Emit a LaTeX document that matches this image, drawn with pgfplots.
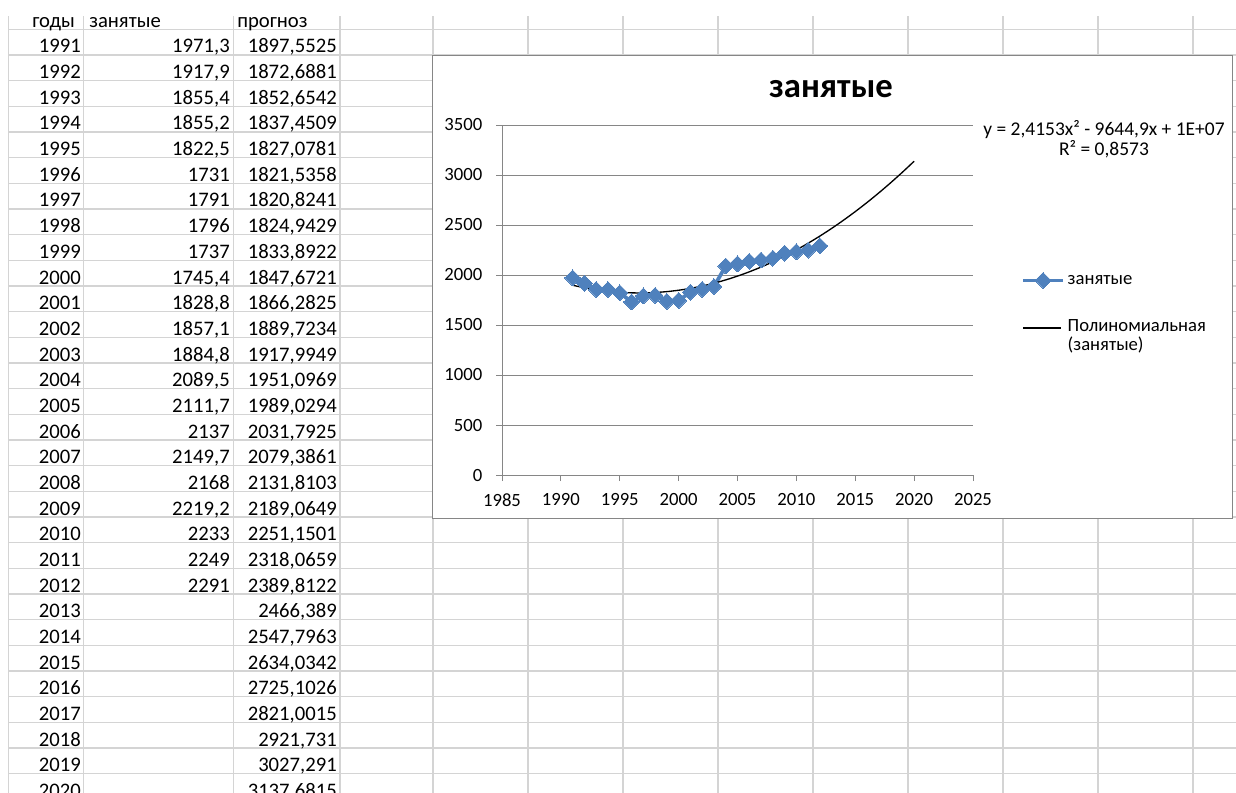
\documentclass[border=0pt]{standalone}
\usepackage{fontspec}
\setmainfont{Carlito}
\usepackage{pgfplots}
\usepackage{pgfplotstable}
\pgfplotsset{compat=1.18}
\definecolor{cellgrid}{RGB}{212,212,212}
\definecolor{axgray}{RGB}{134,134,134}
\definecolor{xlblue}{RGB}{79,129,189}

\pgfplotsset{
  seriesimg/.style={legend image code/.code={\draw[mark repeat=2,mark phase=2,##1] plot coordinates {(0pt,0pt)(15pt,0pt)(30pt,0pt)};}},
  trendimg/.style={legend image code/.code={\draw[##1] (0pt,6pt) -- (28pt,6pt);}},
}

\pgfplotstableread{
year val
1991 1971.3
1992 1917.9
1993 1855.4
1994 1855.2
1995 1822.5
1996 1731
1997 1791
1998 1796
1999 1737
2000 1745.4
2001 1828.8
2002 1857.1
2003 1884.8
2004 2089.5
2005 2111.7
2006 2137
2007 2149.7
2008 2168
2009 2219.2
2010 2233
2011 2249
2012 2291
}\zanyatye

\pgfplotstableread{
year val
1991 1897.5525
1992 1872.6881
1993 1852.6542
1994 1837.4509
1995 1827.0781
1996 1821.5358
1997 1820.8241
1998 1824.9429
1999 1833.8922
2000 1847.6721
2001 1866.2825
2002 1889.7234
2003 1917.9949
2004 1951.0969
2005 1989.0294
2006 2031.7925
2007 2079.3861
2008 2131.8103
2009 2189.0649
2010 2251.1501
2011 2318.0659
2012 2389.8122
2013 2466.389
2014 2547.7963
2015 2634.0342
2016 2725.1026
2017 2821.0015
2018 2921.731
2019 3027.291
2020 3137.6815
}\prognoz

\newcommand\tfont{\fontsize{15.5}{18}\selectfont}
\newcommand\cfont{\fontsize{14}{14.5}\selectfont}

\begin{document}
\begin{tikzpicture}[x=0.75pt,y=-0.75pt]
\path[use as bounding box,clip] (0,0) rectangle (1236,793);
\fill[white] (0,0) rectangle (1236,793);

% spreadsheet cells
\foreach \k in {0,...,30}
  \draw[cellgrid,line width=1.1pt] (8.3,{29.3+25.67*\k}) -- (1236,{29.3+25.67*\k});
\foreach \x in {8.3,83.3,233.5,340,433,528,623,718,813,908,1003,1098,1193}
  \draw[cellgrid,line width=1.1pt] (\x,16) -- (\x,793);

\begin{scope}[every node/.style={inner sep=0pt,font=\tfont}]
\node[anchor=base west] at (32,27.5) {годы};
\node[anchor=base west] at (89,27.5) {занятые};
\node[anchor=base west] at (237,27.5) {прогноз};
\foreach \k [evaluate=\k as \yr using int(1990+\k)] in {1,...,30}
  \node[anchor=base east] at (81,{29.3+25.67*\k-2}) {\yr};
\foreach \v [count=\k] in {{1971,3},{1917,9},{1855,4},{1855,2},{1822,5},{1731},{1791},{1796},{1737},{1745,4},{1828,8},{1857,1},{1884,8},{2089,5},{2111,7},{2137},{2149,7},{2168},{2219,2},{2233},{2249},{2291}}
  \node[anchor=base east] at (230,{29.3+25.67*\k-2}) {\v};
\foreach \v [count=\k] in {{1897,5525},{1872,6881},{1852,6542},{1837,4509},{1827,0781},{1821,5358},{1820,8241},{1824,9429},{1833,8922},{1847,6721},{1866,2825},{1889,7234},{1917,9949},{1951,0969},{1989,0294},{2031,7925},{2079,3861},{2131,8103},{2189,0649},{2251,1501},{2318,0659},{2389,8122},{2466,389},{2547,7963},{2634,0342},{2725,1026},{2821,0015},{2921,731},{3027,291},{3137,6815}}
  \node[anchor=base east] at (337,{29.3+25.67*\k-2}) {\v};
\end{scope}

% chart area
\filldraw[fill=white,draw=axgray,line width=0.75pt] (432,55) rectangle (1232,518);
\node[anchor=base,inner sep=0pt,font=\fontsize{26}{30}\selectfont\bfseries] at (831,97) {занятые};
\node[anchor=base,inner sep=0pt,font=\fontsize{14.6}{16}\selectfont] at (1104,135) {y = 2,4153x² - 9644,9x + 1E+07};
\node[anchor=base,inner sep=0pt,font=\fontsize{14.6}{16}\selectfont] at (1104,155) {R² = 0,8573};

\coordinate (O) at (502,475);
\begin{axis}[
  at={(O)}, anchor=south west, scale only axis,
  width=353.25pt, height=262.5pt,
  xmin=1985, xmax=2025, ymin=0, ymax=3500,
  xtick distance=5, ytick distance=500,
  axis lines=left,
  axis line style={draw=axgray,line width=0.75pt,-},
  tick style={draw=axgray,line width=0.75pt},
  tick align=outside, major tick length=4.5pt,
  ymajorgrids, grid style={draw=axgray,line width=0.75pt},
  /pgf/number format/1000 sep={},
  /pgf/number format/assume math mode=true,
  ticklabel style={font=\cfont},
  xticklabel style={yshift=-6pt},
  yticklabel style={xshift=-6.75pt},
  legend style={at={(1.102,0.58)},anchor=north west,draw=none,fill=none,
    inner sep=0pt,font=\cfont,row sep=21pt,
    cells={anchor=west,align=left}},
  legend cell align=left,
]
\addplot[xlblue,line width=2.8pt,mark=square*,seriesimg,
  mark options={solid,rotate=45,fill=xlblue,draw=xlblue,line width=0pt},mark size=4.2pt]
  table[x=year,y=val] {\zanyatye};
\addlegendentry{занятые}
\addplot[black,line width=1pt,smooth,no marks,trendimg]
  table[x=year,y=val] {\prognoz};
\addlegendentry{Полиномиальная\\(занятые)}
\end{axis}
\end{tikzpicture}
\end{document}
